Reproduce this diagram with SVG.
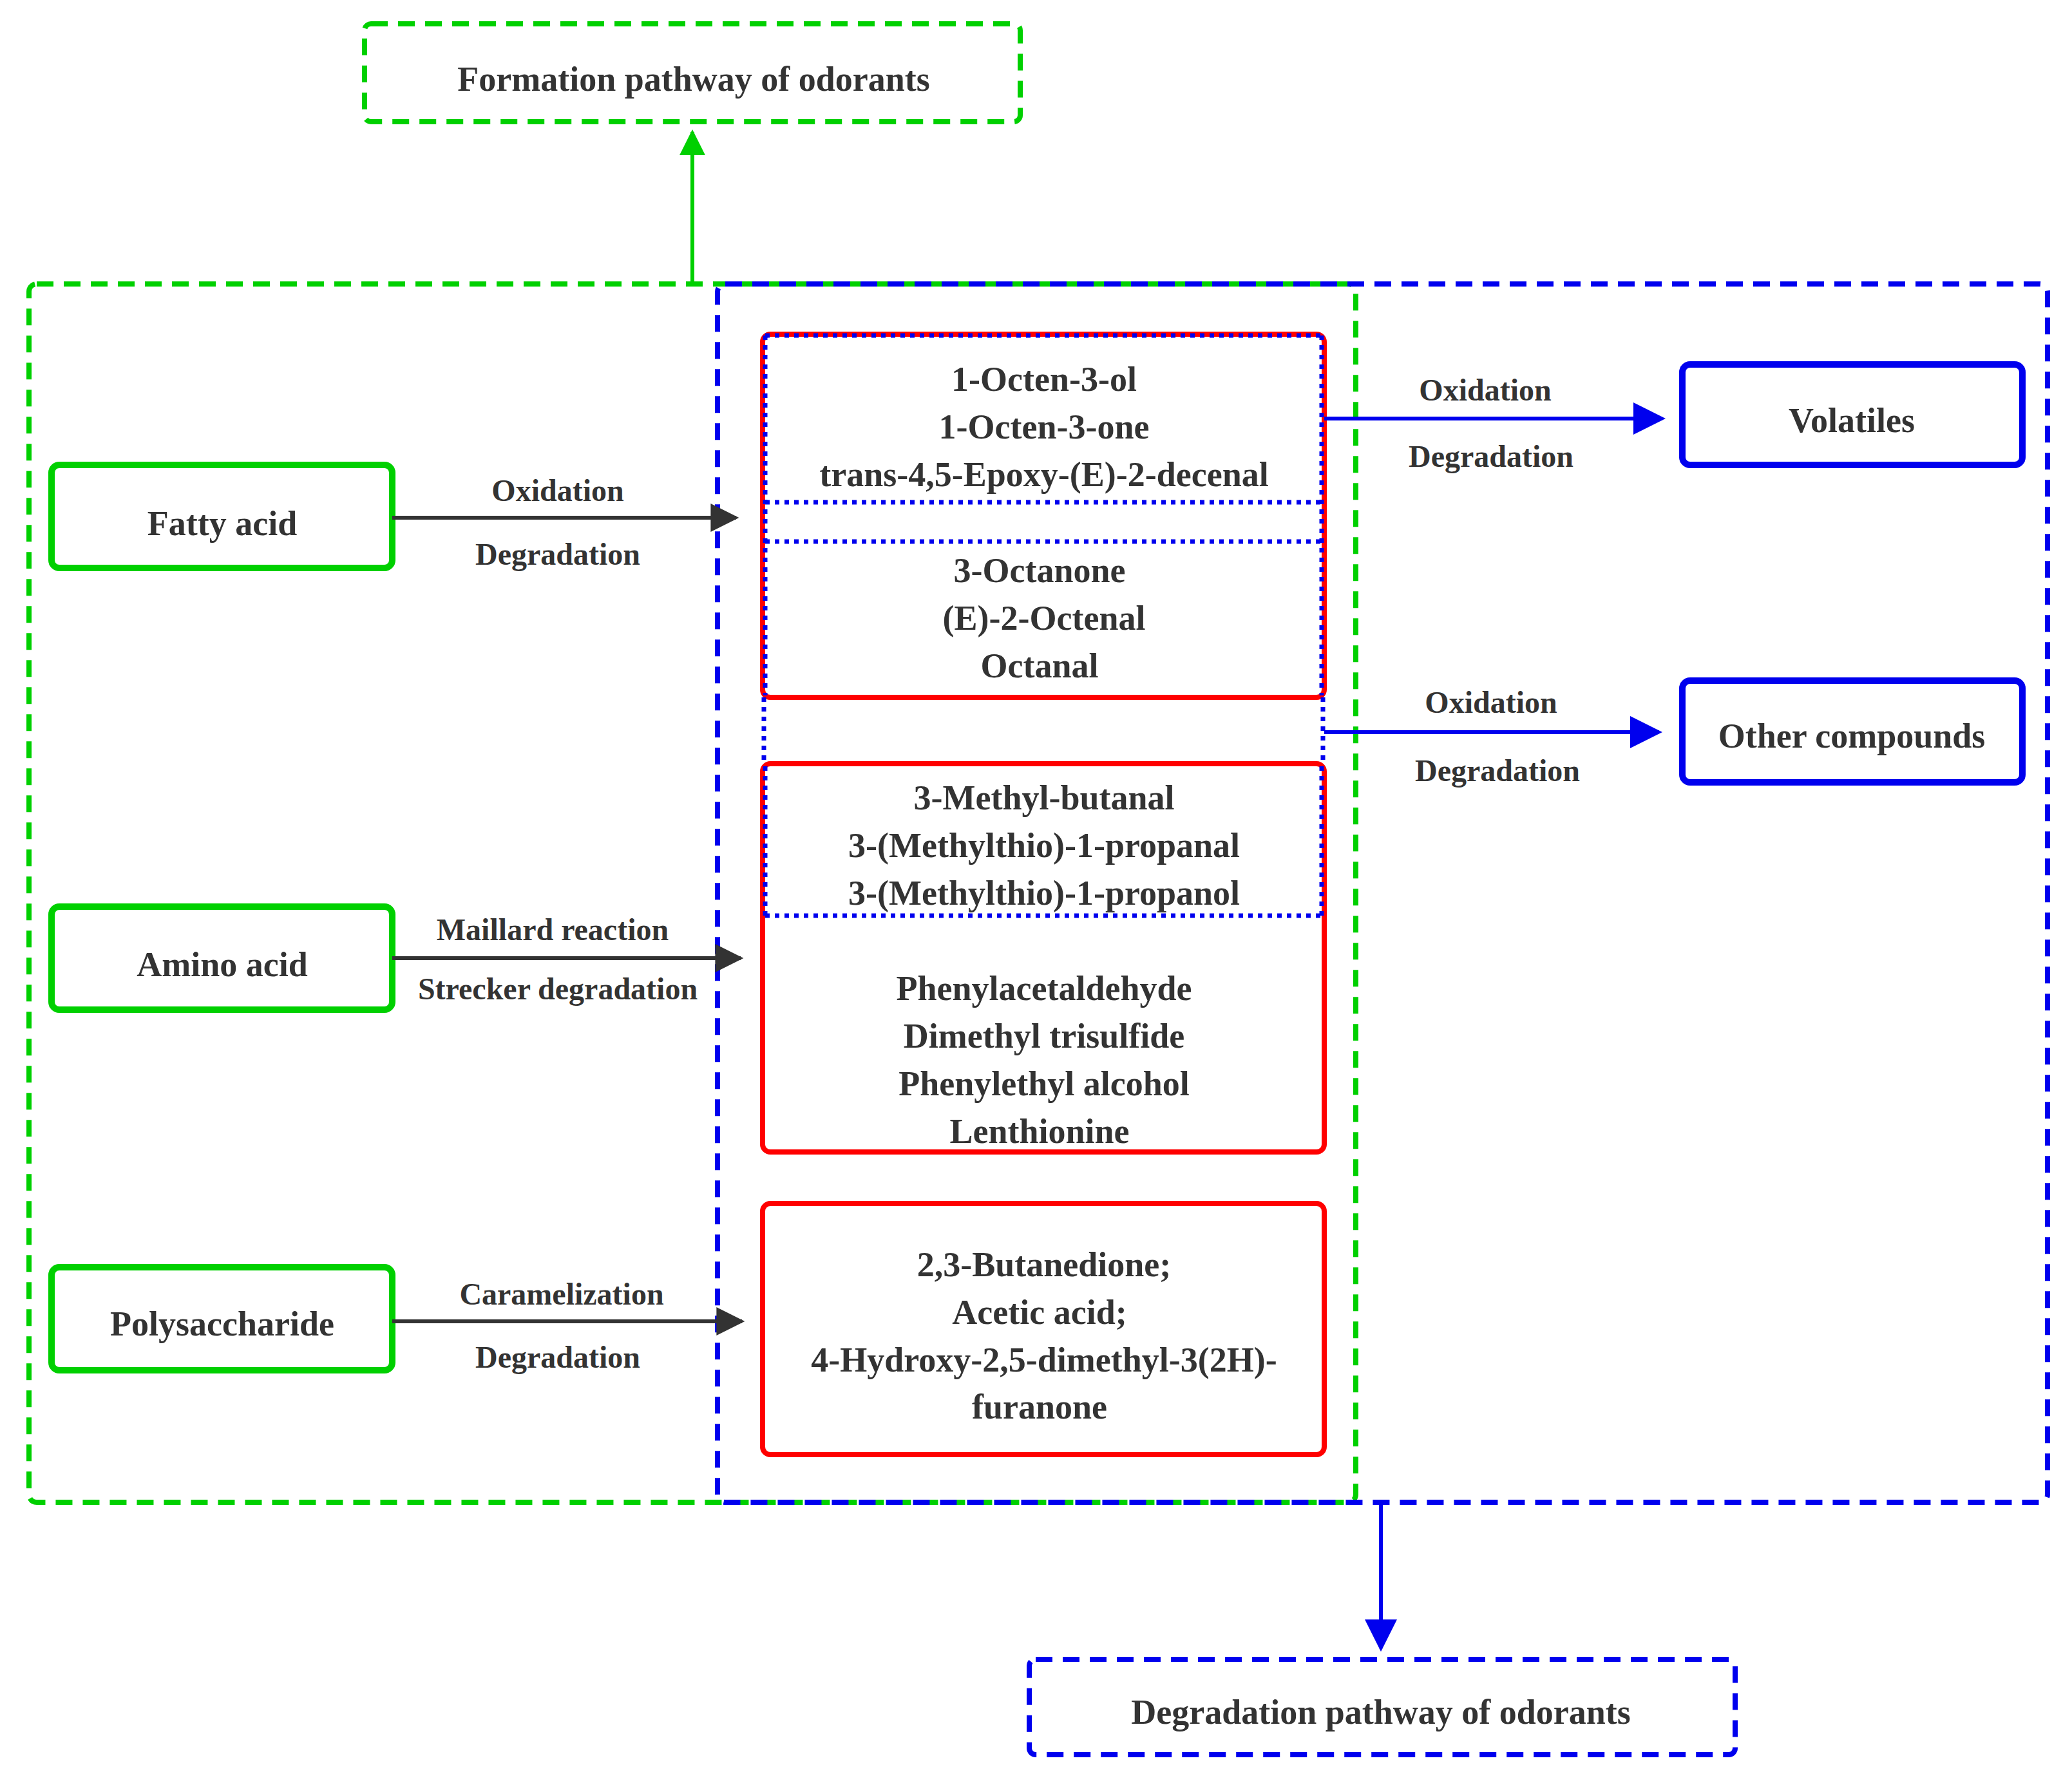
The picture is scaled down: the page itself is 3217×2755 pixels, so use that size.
<svg xmlns="http://www.w3.org/2000/svg" width="3217" height="2755" viewBox="0 0 3217 2755">
<style>
text{font-family:"Liberation Serif","Times New Roman","DejaVu Serif",serif;font-weight:bold;fill:#333;text-anchor:middle;dominant-baseline:central}
.n{font-size:54px}.e{font-size:48px}
.g{fill:#fff;stroke:#00d000;stroke-width:10}
.b{fill:#fff;stroke:#0000ee;stroke-width:10}
.r{fill:none;stroke:#ff0000;stroke-width:8}
.gd{fill:none;stroke:#00d000;stroke-width:8;stroke-dasharray:26 16}
.bd{fill:none;stroke:#0000ee;stroke-width:8;stroke-dasharray:26 16}
.dot{stroke:#0000ee;stroke-width:7;stroke-dasharray:7 8;fill:none}
</style>
<defs>
<marker id="ab" viewBox="0 0 10 10" refX="9" refY="5" markerWidth="60" markerHeight="50" orient="auto" markerUnits="userSpaceOnUse"><path d="M0,0L10,5L0,10z" fill="#0000ee"/></marker>
<marker id="ag" viewBox="0 0 10 10" refX="9" refY="5" markerWidth="60" markerHeight="40" orient="auto" markerUnits="userSpaceOnUse"><path d="M0,0L10,5L0,10z" fill="#00d000"/></marker>
<marker id="ak2" viewBox="0 0 10 10" refX="9" refY="5" markerWidth="60" markerHeight="44" orient="auto" markerUnits="userSpaceOnUse"><path d="M0,0L10,5L0,10z" fill="#333"/></marker>
</defs>
<rect width="3217" height="2755" fill="#fff"/>
<g id="containers">
<rect class="gd" x="45" y="441" width="2060" height="1892" rx="12"/>
<rect class="bd" x="1114" y="441" width="2065" height="1892" rx="12"/>
</g>
<g id="formation"><rect class="gd" x="566" y="37" width="1018" height="152" rx="10"/><text class="n" x="1077" y="123">Formation pathway of odorants</text></g>
<g id="degradation"><rect class="bd" x="1598" y="2577" width="1096" height="148" rx="10"/><text class="n" x="2144" y="2659">Degradation pathway of odorants</text></g>
<g id="fatty"><rect class="g" x="80" y="722" width="529" height="160" rx="12"/><text class="n" x="345" y="813">Fatty acid</text></g>
<g id="amino"><rect class="g" x="80" y="1408" width="529" height="160" rx="12"/><text class="n" x="345" y="1498">Amino acid</text></g>
<g id="poly"><rect class="g" x="80" y="1968" width="529" height="160" rx="12"/><text class="n" x="345" y="2056">Polysaccharide</text></g>
<g id="volatiles"><rect class="b" x="2612" y="566" width="528" height="156" rx="12"/><text class="n" x="2875" y="653">Volatiles</text></g>
<g id="other"><rect class="b" x="2612" y="1057" width="528" height="158" rx="12"/><text class="n" x="2875" y="1143">Other compounds</text></g>
<g id="box1">
<rect class="r" x="1184" y="519" width="872" height="564" rx="12"/>
<path class="dot" d="M1188,521H2052M1188,521V1080M2052,521V1080M1188,780H2052M1188,841H2052"/>
<text class="n" x="1621" y="589">1-Octen-3-ol</text>
<text class="n" x="1621" y="663">1-Octen-3-one</text>
<text class="n" x="1621" y="737">trans-4,5-Epoxy-(E)-2-decenal</text>
<text class="n" x="1614" y="886">3-Octanone</text>
<text class="n" x="1621" y="960">(E)-2-Octenal</text>
<text class="n" x="1614" y="1034">Octanal</text>
</g>
<path class="dot" d="M1186,1083V1186M2054,1083V1186"/>
<g id="box2">
<rect class="r" x="1184" y="1186" width="872" height="603" rx="12"/>
<path class="dot" d="M1188,1190V1422M2052,1190V1422M1188,1422H2052"/>
<text class="n" x="1621" y="1239">3-Methyl-butanal</text>
<text class="n" x="1621" y="1313">3-(Methylthio)-1-propanal</text>
<text class="n" x="1621" y="1387">3-(Methylthio)-1-propanol</text>
<text class="n" x="1621" y="1535">Phenylacetaldehyde</text>
<text class="n" x="1621" y="1609">Dimethyl trisulfide</text>
<text class="n" x="1621" y="1683">Phenylethyl alcohol</text>
<text class="n" x="1614" y="1757">Lenthionine</text>
</g>
<g id="box3">
<rect class="r" x="1184" y="1869" width="872" height="390" rx="12"/>
<text class="n" x="1621" y="1964">2,3-Butanedione;</text>
<text class="n" x="1614" y="2038">Acetic acid;</text>
<text class="n" x="1621" y="2112">4-Hydroxy-2,5-dimethyl-3(2H)-</text>
<text class="n" x="1614" y="2185">furanone</text>
</g>
<g id="connectors">
<path d="M1075,441V205" stroke="#00d000" stroke-width="6" fill="none" marker-end="url(#ag)"/>
<path d="M2144,2333V2560" stroke="#0000ee" stroke-width="6" fill="none" marker-end="url(#ab)"/>
<path d="M609,804H1143" stroke="#333" stroke-width="6" fill="none" marker-end="url(#ak2)"/>
<path d="M609,1488H1150" stroke="#333" stroke-width="6" fill="none" marker-end="url(#ak2)"/>
<path d="M609,2052H1152" stroke="#333" stroke-width="6" fill="none" marker-end="url(#ak2)"/>
<path d="M2056,650H2581" stroke="#0000ee" stroke-width="6" fill="none" marker-end="url(#ab)"/>
<path d="M2056,1137H2576" stroke="#0000ee" stroke-width="6" fill="none" marker-end="url(#ab)"/>
<text class="e" x="866" y="761">Oxidation</text>
<text class="e" x="866" y="860">Degradation</text>
<text class="e" x="858" y="1443">Maillard reaction</text>
<text class="e" x="866" y="1535">Strecker degradation</text>
<text class="e" x="872" y="2009">Caramelization</text>
<text class="e" x="866" y="2107">Degradation</text>
<text class="e" x="2306" y="605">Oxidation</text>
<text class="e" x="2315" y="708">Degradation</text>
<text class="e" x="2315" y="1090">Oxidation</text>
<text class="e" x="2325" y="1196">Degradation</text>
</g>
</svg>
